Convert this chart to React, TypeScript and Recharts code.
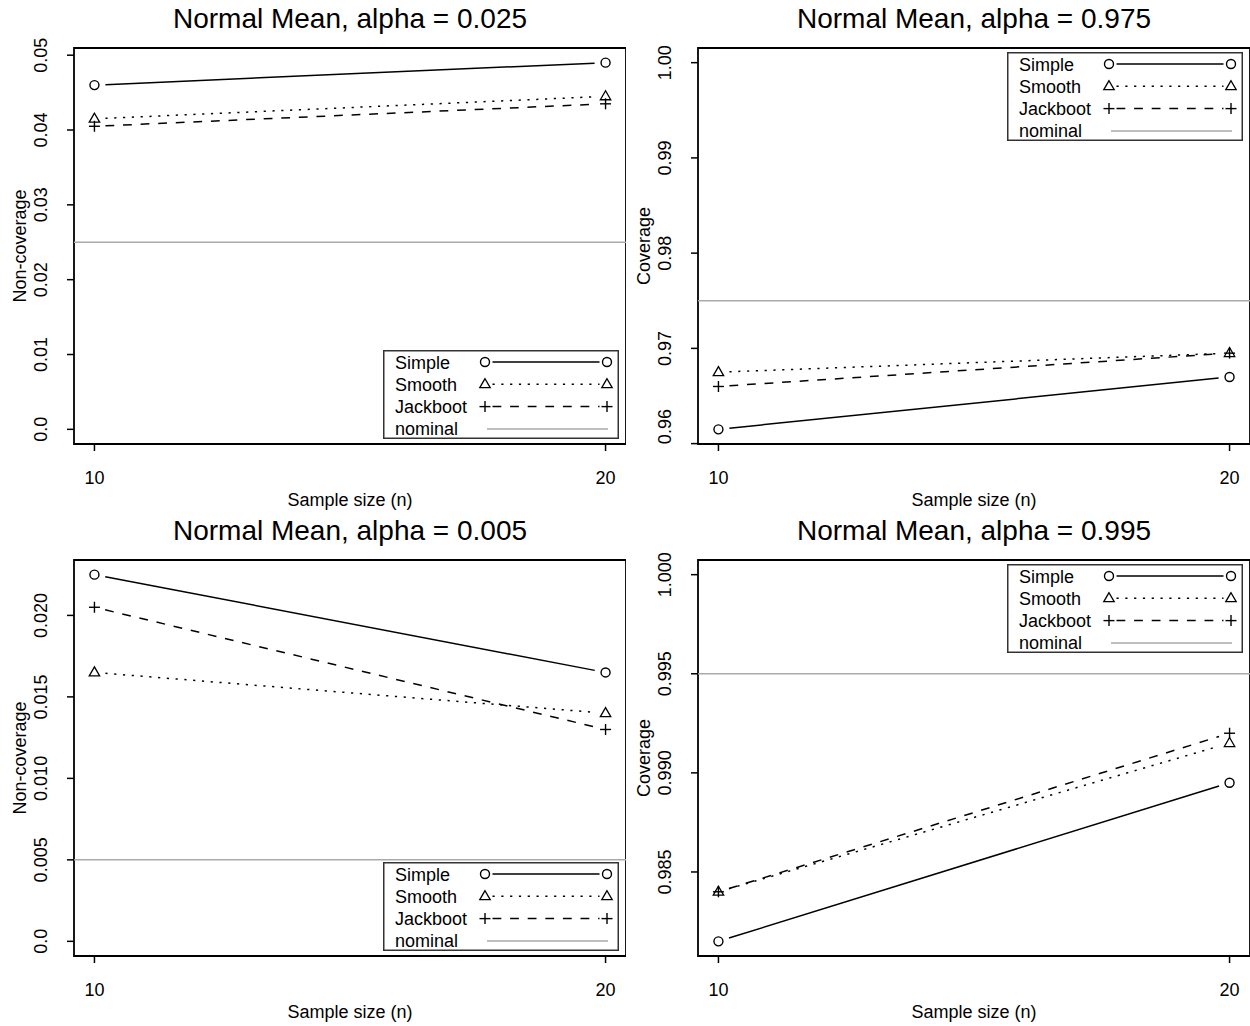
import React from 'react'
import { ComposedChart, Scatter, XAxis, YAxis, ReferenceLine, ReferenceArea, Legend } from 'recharts'

const sampleSizes = [10, 20]
const seriesNames = ['Simple', 'Smooth', 'Jackboot']

// alpha = 0.025, non-coverage
const simple025 = [0.046, 0.049]
const smooth025 = [0.0415, 0.0445]
const jackboot025 = [0.0405, 0.0435]

// alpha = 0.975, coverage
const simple975 = [0.9615, 0.967]
const smooth975 = [0.9675, 0.9695]
const jackboot975 = [0.966, 0.9695]

// alpha = 0.005, non-coverage
const simple005 = [0.0225, 0.0165]
const smooth005 = [0.0165, 0.014]
const jackboot005 = [0.0205, 0.013]

// alpha = 0.995, coverage
const simple995 = [0.9815, 0.9895]
const smooth995 = [0.984, 0.9915]
const jackboot995 = [0.984, 0.992]

const ticks025 = [0, 0.01, 0.02, 0.03, 0.04, 0.05]
const labels025 = ['0.0', '0.01', '0.02', '0.03', '0.04', '0.05']
const ticks975 = [0.96, 0.97, 0.98, 0.99, 1.0]
const labels975 = ['0.96', '0.97', '0.98', '0.99', '1.00']
const ticks005 = [0, 0.005, 0.01, 0.015, 0.02]
const labels005 = ['0.0', '0.005', '0.010', '0.015', '0.020']
const ticks995 = [0.985, 0.99, 0.995, 1.0]
const labels995 = ['0.985', '0.990', '0.995', '1.000']

const FONT = '"Liberation Sans", Arial, Helvetica, sans-serif'
const W = 626
const H = 513
const PL = 74
const PT = 48
const XH = 69
const PW = W - PL
const PB = H - XH
const GAP = 11

const styles = [
  { key: 'simple', shape: 'circle', dash: undefined },
  { key: 'smooth', shape: 'triangle', dash: '2.2 6.6' },
  { key: 'jackboot', shape: 'plus', dash: '8.8 8.8' },
]

// R's plot() pads the range by 4% on each side
const pad = (lo: number, hi: number) => {
  const d = (hi - lo) * 0.04
  return [lo - d, hi + d]
}

function Marker({ shape, cx, cy }: any) {
  if (shape === 'circle') {
    return <circle cx={cx} cy={cy} r={4.5} fill="none" stroke="#000" strokeWidth={1.4} />
  }
  if (shape === 'triangle') {
    const pts = `${cx},${cy - 5.6} ${cx - 5.2},${cy + 3.4} ${cx + 5.2},${cy + 3.4}`
    return <polygon points={pts} fill="none" stroke="#000" strokeWidth={1.3} />
  }
  return (
    <g stroke="#000" strokeWidth={1.4}>
      <line x1={cx - 5.5} y1={cy} x2={cx + 5.5} y2={cy} />
      <line x1={cx} y1={cy - 5.5} x2={cx} y2={cy + 5.5} />
    </g>
  )
}

// type="b": segments stop short of each point
function GapLine({ points, dash }: any) {
  if (!points) return null
  const segs = []
  for (let i = 1; i < points.length; i++) {
    const a = points[i - 1]
    const b = points[i]
    const dx = b.x - a.x
    const dy = b.y - a.y
    const len = Math.hypot(dx, dy)
    if (len <= 2 * GAP) continue
    const ux = dx / len
    const uy = dy / len
    segs.push(
      <line
        key={i}
        x1={a.x + ux * GAP}
        y1={a.y + uy * GAP}
        x2={b.x - ux * GAP}
        y2={b.y - uy * GAP}
        stroke="#000"
        strokeWidth={1.5}
        strokeDasharray={dash}
      />
    )
  }
  return <g>{segs}</g>
}

function LegendBox() {
  const rows = [...seriesNames, 'nominal']
  return (
    <svg width={236} height={89} style={{ display: 'block', fontFamily: FONT }}>
      <rect x={0.75} y={0.75} width={234.5} height={87.5} fill="#fff" stroke="#333" strokeWidth={1.5} />
      {rows.map((name, i) => {
        const base = 18.5 + i * 22.3
        const cy = base - 6.5
        const s = styles[i]
        return (
          <g key={name}>
            <text x={12} y={base} fontSize={18} fill="#000">{name}</text>
            {s ? (
              <g>
                <line x1={109.5} y1={cy} x2={216.5} y2={cy} stroke="#000" strokeWidth={1.5} strokeDasharray={s.dash} />
                <Marker shape={s.shape} cx={102} cy={cy} />
                <Marker shape={s.shape} cx={224} cy={cy} />
              </g>
            ) : (
              <line x1={104} y1={cy} x2={225} y2={cy} stroke="#aaa" strokeWidth={1.5} />
            )}
          </g>
        )
      })}
    </svg>
  )
}

const YTick = ({ x, y, payload, ticks, labels }: any) => {
  const i = ticks.findIndex((t: number) => Math.abs(t - payload.value) < 1e-9)
  const label = labels[i]
  // keep the lowest label from running below the plot frame
  const half = label.length * 4.6
  const cy = Math.min(y, PB + 1 - half)
  return (
    <text x={x} y={cy} transform={`rotate(-90 ${x} ${cy})`} textAnchor="middle" fontSize={18} fill="#000">
      {label}
    </text>
  )
}

const XTick = ({ x, y, payload }: any) => (
  <text x={x} y={y + 33} textAnchor="middle" fontSize={18} fill="#000">
    {payload.value}
  </text>
)

const YTitle = ({ viewBox, text }: any) => {
  const bx = viewBox.x + viewBox.width - 48
  const cy = viewBox.y + viewBox.height / 2
  return (
    <text x={bx} y={cy} transform={`rotate(-90 ${bx} ${cy})`} textAnchor="middle" fontSize={18} fill="#000">
      {text}
    </text>
  )
}

const XTitle = ({ viewBox }: any) => (
  <text x={viewBox.x + viewBox.width / 2} y={viewBox.y + 62} textAnchor="middle" fontSize={18} fill="#000">
    Sample size (n)
  </text>
)

function Panel({ title, yLabel, nominal, simple, smooth, jackboot, ticks, labels, coverage, left, top }: any) {
  const data = sampleSizes.map((n, i) => ({
    n,
    simple: simple[i],
    smooth: smooth[i],
    jackboot: jackboot[i],
  }))
  const all = [...simple, ...smooth, ...jackboot]
  const yDomain = coverage ? pad(Math.min(...all), 1) : pad(0, Math.max(...all))
  const xDomain = pad(sampleSizes[0], sampleSizes[sampleSizes.length - 1])
  const legendTop = coverage ? PT + 4 : PB - 5 - 89

  return (
    <div style={{ position: 'absolute', left, top }}>
      <ComposedChart width={W} height={H} data={data} margin={{ top: PT, right: 0, bottom: 0, left: 0 }}>
        <text x={PL + PW / 2} y={28} textAnchor="middle" fontSize={28} fill="#000" fontFamily={FONT}>
          {title}
        </text>
        <XAxis
          type="number"
          dataKey="n"
          domain={xDomain}
          ticks={sampleSizes}
          allowDataOverflow
          height={XH}
          axisLine={false}
          tickSize={7}
          tickMargin={0}
          tickLine={{ stroke: '#000', strokeWidth: 1.5 }}
          tick={<XTick />}
          label={<XTitle />}
        />
        <YAxis
          type="number"
          domain={yDomain}
          ticks={ticks}
          allowDataOverflow
          width={PL}
          axisLine={false}
          tickSize={7}
          tickMargin={19.5}
          tickLine={{ stroke: '#000', strokeWidth: 1.5 }}
          tick={<YTick ticks={ticks} labels={labels} />}
          label={<YTitle text={yLabel} />}
        />
        <ReferenceLine y={nominal} stroke="#aaa" strokeWidth={1.5} />
        {styles.map((s) => (
          <Scatter
            key={s.key}
            dataKey={s.key}
            line={<GapLine dash={s.dash} />}
            lineType="joint"
            legendType="none"
            isAnimationActive={false}
            shape={(p: any) => <Marker shape={s.shape} cx={p.cx} cy={p.cy} />}
          />
        ))}
        <ReferenceArea
          x1={xDomain[0]}
          x2={xDomain[1]}
          y1={yDomain[0]}
          y2={yDomain[1]}
          fill="none"
          stroke="#000"
          strokeWidth={1.8}
          ifOverflow="visible"
        />
        <Legend
          layout="vertical"
          align="center"
          verticalAlign="middle"
          wrapperStyle={{ left: 383, top: legendTop, width: 236, height: 89 }}
          content={() => <LegendBox />}
        />
      </ComposedChart>
    </div>
  )
}

export default function App() {
  return (
    <div style={{ position: 'absolute', left: 0, top: 0, width: 1250, height: 1026, background: '#fff', fontFamily: FONT }}>
      <Panel
        title="Normal Mean, alpha = 0.025"
        yLabel="Non-coverage"
        nominal={0.025}
        simple={simple025}
        smooth={smooth025}
        jackboot={jackboot025}
        ticks={ticks025}
        labels={labels025}
        coverage={false}
        left={0}
        top={0}
      />
      <Panel
        title="Normal Mean, alpha = 0.975"
        yLabel="Coverage"
        nominal={0.975}
        simple={simple975}
        smooth={smooth975}
        jackboot={jackboot975}
        ticks={ticks975}
        labels={labels975}
        coverage
        left={624}
        top={0}
      />
      <Panel
        title="Normal Mean, alpha = 0.005"
        yLabel="Non-coverage"
        nominal={0.005}
        simple={simple005}
        smooth={smooth005}
        jackboot={jackboot005}
        ticks={ticks005}
        labels={labels005}
        coverage={false}
        left={0}
        top={512}
      />
      <Panel
        title="Normal Mean, alpha = 0.995"
        yLabel="Coverage"
        nominal={0.995}
        simple={simple995}
        smooth={smooth995}
        jackboot={jackboot995}
        ticks={ticks995}
        labels={labels995}
        coverage
        left={624}
        top={512}
      />
    </div>
  )
}
